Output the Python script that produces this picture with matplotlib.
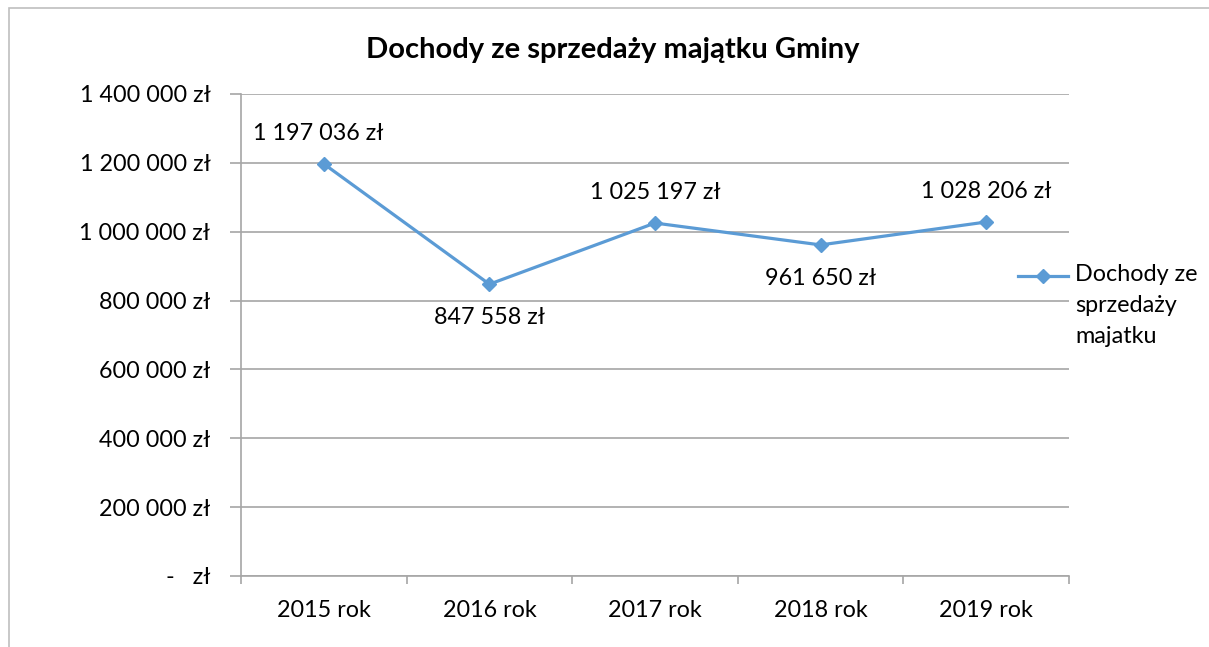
import matplotlib
matplotlib.use('Agg')
import matplotlib.pyplot as plt
from matplotlib.patches import Rectangle

# Dane
lata = ["2015 rok", "2016 rok", "2017 rok", "2018 rok", "2019 rok"]
dochody = [1197036, 847558, 1025197, 961650, 1028206]
etykiety = ["1 197 036 zł", "847 558 zł", "1 025 197 zł", "961 650 zł", "1 028 206 zł"]
y_ticks = [0, 200000, 400000, 600000, 800000, 1000000, 1200000, 1400000]
y_labels = ["-   zł", "200 000 zł", "400 000 zł", "600 000 zł", "800 000 zł",
            "1 000 000 zł", "1 200 000 zł", "1 400 000 zł"]
tytul = "Dochody ze sprzedaży majątku Gminy"
legenda = "Dochody ze\nsprzedaży\nmajatku"

plt.rcParams['font.family'] = ['Lato', 'DejaVu Sans']
kolor = '#5B9BD5'
szary = '#A6A6A6'
fs = 16.8

fig = plt.figure(figsize=(12.09, 6.47), dpi=100)
ax = fig.add_axes([241 / 1209, 1 - 576 / 647, (1069 - 241) / 1209, (576 - 94) / 647])

# ramka wykresu
fig.add_artist(Rectangle((9 / 1209, -0.1), 1.2, 1 - 8 / 647 + 0.1, transform=fig.transFigure,
                         fill=False, edgecolor='#BFBFBF', lw=1.2))

x = list(range(len(lata)))
linia, = ax.plot(x, dochody, color=kolor, lw=2.3, marker='D', markersize=7.5)

# etykiety danych
for i, (v, t) in enumerate(zip(dochody, etykiety)):
    if i in (1, 3):
        ax.annotate(t, (i, v), xytext=(0, -24), textcoords='offset points',
                    ha='center', va='center', fontsize=fs)
    else:
        ax.annotate(t, (i, v), xytext=(-4 if i == 0 else 0, 22), textcoords='offset points',
                    ha='center', va='center', fontsize=fs)

ax.set_xlim(-0.5, len(lata) - 0.5)
ax.set_ylim(0, 1400000)
ax.set_yticks(y_ticks)
ax.set_yticklabels(y_labels, fontsize=fs)
ax.set_xticks(x)
ax.set_xticklabels(lata, fontsize=fs)
ax.set_xticks([i - 0.5 for i in range(len(lata) + 1)], minor=True)
ax.tick_params(axis='x', which='major', length=0, pad=17)
ax.tick_params(axis='x', which='minor', length=6, color=szary, width=1.2)
ax.tick_params(axis='y', length=8, color=szary, width=1.2, pad=14)
ax.grid(axis='y', color=szary, lw=1.2)
ax.set_axisbelow(True)
for s in ['top', 'right']:
    ax.spines[s].set_visible(False)
for s in ['left', 'bottom']:
    ax.spines[s].set_color(szary)
    ax.spines[s].set_linewidth(1.2)

fig.text(613 / 1209, 1 - 50 / 647, tytul, ha='center', va='center', fontsize=21, fontweight='bold')

# legenda: znacznik + tekst w trzech liniach
ax.legend(handles=[linia], labels=[''], loc='center left',
          bbox_to_anchor=(1018 / 1209, 1 - 277 / 647), bbox_transform=fig.transFigure,
          frameon=False, handlelength=3.6, handletextpad=0, borderpad=0, borderaxespad=0)
fig.text(1075 / 1209, 1 - 264 / 647, legenda, ha='left', va='top', fontsize=fs,
         linespacing=1.6)

fig.savefig('out.png', dpi=100)
